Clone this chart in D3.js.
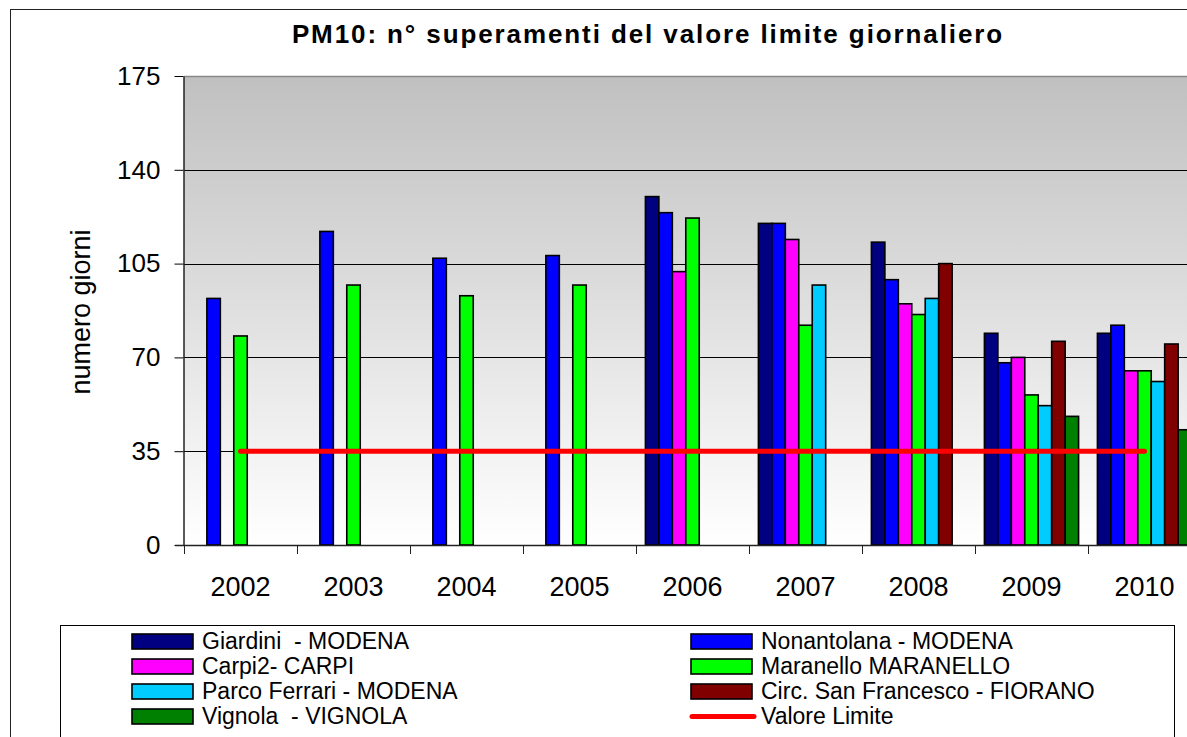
<!DOCTYPE html>
<html lang="en">

<head>
    <meta charset="UTF-8">
    <script src="https://d3js.org/d3.v7.min.js"></script>
    <title>PM10 superamenti</title>
    <style>
        body {
            margin: 0;
            background: white;
            overflow: hidden;
        }

        text {
            font-family: "Liberation Sans", Arial, sans-serif;
            fill: black;
            white-space: pre;
        }
    </style>
</head>

<body>
    <div class="fig1"></div>

    <script>
        // anni sull'asse x
        const years = ["2002", "2003", "2004", "2005", "2006", "2007", "2008", "2009", "2010"];

        // n. giorni di superamento per stazione (null = non presente)
        const giardini = [null, null, null, null, 130, 120, 113, 79, 79];
        const nonantolana = [92, 117, 107, 108, 124, 120, 99, 68, 82];
        const carpi = [null, null, null, null, 102, 114, 90, 70, 65];
        const maranello = [78, 97, 93, 97, 122, 82, 86, 56, 65];
        const parcoFerrari = [null, null, null, null, null, 97, 92, 52, 61];
        const circSanFrancesco = [null, null, null, null, null, null, 105, 76, 75];
        const vignola = [null, null, null, null, null, null, null, 48, 43];

        // valore limite (35 giorni)
        const valoreLimite = [35, 35, 35, 35, 35, 35, 35, 35, 35];

        const yTicks = [0, 35, 70, 105, 140, 175];

        const seriesNames = [
            "Giardini  - MODENA",
            "Nonantolana - MODENA",
            "Carpi2- CARPI",
            "Maranello MARANELLO",
            "Parco Ferrari - MODENA",
            "Circ. San Francesco - FIORANO",
            "Vignola  - VIGNOLA"
        ];
        const seriesColors = ["#000080", "#0000ff", "#ff00ff", "#00ff00", "#00ccff", "#800000", "#008000"];
        const seriesValues = [giardini, nonantolana, carpi, maranello, parcoFerrari, circSanFrancesco, vignola];

        const width = 1187;
        const height = 737;

        const plot = { left: 184, right: 1201, top: 76, bottom: 545 };

        const svg = d3.select(".fig1").append("svg")
            .attr("width", width)
            .attr("height", height);

        // bordo esterno del grafico
        svg.append("rect")
            .attr("x", 10.5)
            .attr("y", 9.5)
            .attr("width", width + 20)
            .attr("height", height + 20)
            .attr("fill", "white")
            .attr("stroke", "#222")
            .attr("stroke-width", 1);

        // sfondo sfumato dell'area del grafico
        const grad = svg.append("defs").append("linearGradient")
            .attr("id", "plotBg")
            .attr("x1", 0).attr("y1", 0)
            .attr("x2", 0).attr("y2", 1);
        grad.append("stop").attr("offset", "0%").attr("stop-color", "#c0c0c0");
        grad.append("stop").attr("offset", "100%").attr("stop-color", "#ffffff");

        svg.append("rect")
            .attr("x", plot.left)
            .attr("y", plot.top)
            .attr("width", plot.right - plot.left)
            .attr("height", plot.bottom - plot.top)
            .attr("fill", "url(#plotBg)");

        const x0 = d3.scaleBand()
            .domain(years)
            .range([plot.left, plot.right]);

        const x1 = d3.scaleBand()
            .domain(d3.range(seriesNames.length))
            .range([0, x0.bandwidth()])
            .paddingOuter(0.7);

        const y = d3.scaleLinear()
            .domain([0, 175])
            .range([plot.bottom, plot.top]);

        // griglia
        svg.append("g")
            .selectAll("line")
            .data(yTicks.filter(d => d > 0 && d < 175))
            .enter()
            .append("line")
            .attr("x1", plot.left)
            .attr("x2", plot.right)
            .attr("y1", d => Math.round(y(d)) + 0.5)
            .attr("y2", d => Math.round(y(d)) + 0.5)
            .attr("stroke", "black")
            .attr("stroke-width", 1);

        svg.append("line")
            .attr("x1", plot.left)
            .attr("x2", plot.right)
            .attr("y1", y(175) + 0.5)
            .attr("y2", y(175) + 0.5)
            .attr("stroke", "#888")
            .attr("stroke-width", 1.5);

        // barre
        const rows = [];
        seriesValues.forEach((vals, s) => {
            vals.forEach((v, i) => {
                if (v !== null) rows.push({ year: years[i], series: s, value: v });
            });
        });

        svg.append("g")
            .selectAll("rect")
            .data(rows)
            .enter()
            .append("rect")
            .attr("x", d => x0(d.year) + x1(d.series))
            .attr("y", d => y(d.value))
            .attr("width", x1.bandwidth())
            .attr("height", d => y(0) - y(d.value))
            .attr("fill", d => seriesColors[d.series])
            .attr("stroke", "black")
            .attr("stroke-width", 1.6);

        // linea del valore limite
        const limitLine = d3.line()
            .x((d, i) => x0(years[i]) + x0.bandwidth() / 2)
            .y(d => y(d));

        svg.append("path")
            .datum(valoreLimite)
            .attr("d", limitLine)
            .attr("fill", "none")
            .attr("stroke", "#ff0000")
            .attr("stroke-width", 5)
            .attr("stroke-linecap", "round");

        // asse y
        const yAxis = svg.append("g")
            .attr("transform", `translate(${plot.left - 0.5},0)`)
            .call(d3.axisLeft(y).tickValues(yTicks).tickSize(9).tickPadding(14).tickSizeOuter(0));
        yAxis.selectAll("text")
            .style("font-family", '"Liberation Sans", Arial, sans-serif')
            .style("font-size", "26px");
        yAxis.select(".domain").attr("stroke", "#222").attr("stroke-width", 1.5);

        // asse x: linea, tacche ai bordi delle categorie, etichette al centro
        svg.append("line")
            .attr("x1", plot.left - 9)
            .attr("x2", plot.right)
            .attr("y1", plot.bottom + 0.5)
            .attr("y2", plot.bottom + 0.5)
            .attr("stroke", "#222")
            .attr("stroke-width", 1.5);

        const boundaries = years.map(d => x0(d)).concat([plot.right]);
        svg.append("g")
            .selectAll("line")
            .data(boundaries)
            .enter()
            .append("line")
            .attr("x1", d => Math.round(d) + 0.5)
            .attr("x2", d => Math.round(d) + 0.5)
            .attr("y1", plot.bottom)
            .attr("y2", plot.bottom + 9)
            .attr("stroke", "#222")
            .attr("stroke-width", 1);

        svg.append("g")
            .selectAll("text")
            .data(years)
            .enter()
            .append("text")
            .attr("x", d => x0(d) + x0.bandwidth() / 2)
            .attr("y", 596)
            .attr("text-anchor", "middle")
            .style("font-size", "27px")
            .text(d => d);

        // titolo
        svg.append("text")
            .attr("x", 648)
            .attr("y", 43)
            .attr("text-anchor", "middle")
            .style("font-size", "26px")
            .style("font-weight", "bold")
            .style("letter-spacing", "1.9px")
            .text("PM10: n° superamenti del valore limite giornaliero");

        // titolo asse y
        svg.append("text")
            .attr("transform", "translate(90,312) rotate(-90)")
            .attr("text-anchor", "middle")
            .style("font-size", "27px")
            .text("numero giorni");

        // legenda
        const legend = svg.append("g");
        legend.append("rect")
            .attr("x", 60.5)
            .attr("y", 625.5)
            .attr("width", 1114)
            .attr("height", 160)
            .attr("fill", "white")
            .attr("stroke", "black")
            .attr("stroke-width", 1);

        const legendItems = seriesNames.map((name, i) => ({ name: name, color: seriesColors[i], line: false }))
            .concat([{ name: "Valore Limite", color: "#ff0000", line: true }]);
        const colX = [132, 691];

        const item = legend.selectAll(".item")
            .data(legendItems)
            .enter()
            .append("g")
            .attr("class", "item")
            .attr("transform", (d, i) => `translate(${colX[i % 2]},${634 + 25 * Math.floor(i / 2)})`);

        item.filter(d => !d.line)
            .append("rect")
            .attr("width", 61)
            .attr("height", 15)
            .attr("fill", d => d.color)
            .attr("stroke", "black")
            .attr("stroke-width", 1.6);

        item.filter(d => d.line)
            .append("line")
            .attr("x1", 1)
            .attr("x2", 63)
            .attr("y1", 7.5)
            .attr("y2", 7.5)
            .attr("stroke", d => d.color)
            .attr("stroke-width", 5)
            .attr("stroke-linecap", "round");

        item.append("text")
            .attr("x", 70)
            .attr("y", 15)
            .style("font-size", "23px")
            .text(d => d.name);
    </script>
</body>

</html>
